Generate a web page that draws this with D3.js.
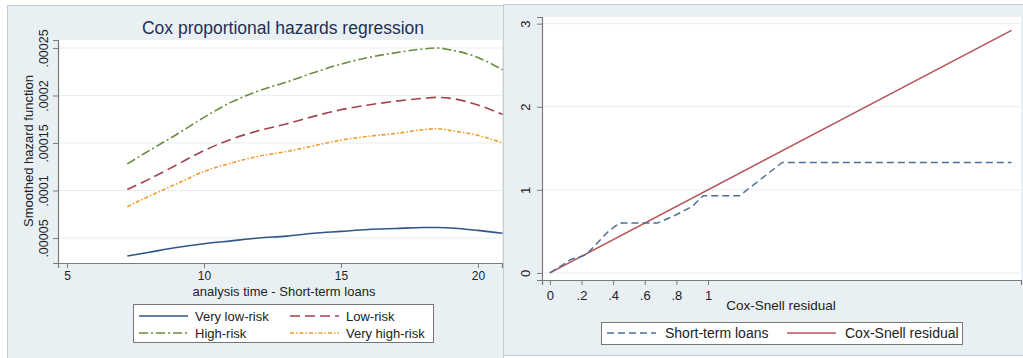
<!DOCTYPE html>
<head>
  <meta charset="utf-8">
</head>
<style>
body { margin: 0; background: #fff; }
text { font-family: "Liberation Sans", Arial, sans-serif; fill: #222; }
.grid line { stroke: #e6eeee; stroke-width: 1; }
</style>
<body>
<script src="https://d3js.org/d3.v7.min.js"></script>
<script>
// left panel: smoothed hazard by risk group
var times = [7.2, 8, 9, 10, 11, 12, 13, 14, 15, 16, 17, 18, 18.5, 19, 20, 20.9];
var veryLow  = [0.000031, 0.000035, 0.00004, 0.000044, 0.000047, 0.00005, 0.000052, 0.000055, 0.000057, 0.000059, 0.00006, 0.000061, 0.000061, 0.0000605, 0.000058, 0.000055];
var lowRisk  = [0.000101, 0.000112, 0.000127, 0.000142, 0.000154, 0.000163, 0.00017, 0.000178, 0.000185, 0.00019, 0.000194, 0.000197, 0.000198, 0.000197, 0.00019, 0.00018];
var highRisk = [0.000128, 0.000142, 0.000159, 0.000177, 0.000193, 0.000205, 0.000214, 0.000224, 0.000233, 0.00024, 0.000245, 0.000249, 0.00025, 0.000248, 0.00024, 0.000227];
var veryHigh = [0.000083, 0.000094, 0.000107, 0.00012, 0.000129, 0.000136, 0.000141, 0.000147, 0.000153, 0.000157, 0.00016, 0.000164, 0.000165, 0.000163, 0.000158, 0.00015];
var leftXTicks = [5, 10, 15, 20];
var leftYTicks = [0.00005, 0.0001, 0.00015, 0.0002, 0.00025];
var leftYLabels = [".00005", ".0001", ".00015", ".0002", ".00025"];

// right panel: Cox-Snell residual check
var csX = [0, 0.1, 0.13, 0.2, 0.23, 0.27, 0.33, 0.37, 0.44, 0.58, 0.68, 0.8, 0.9, 0.97, 1.2, 1.47, 2.92];
var csY = [0, 0.12, 0.16, 0.2, 0.22, 0.3, 0.42, 0.5, 0.6, 0.6, 0.6, 0.7, 0.8, 0.93, 0.93, 1.33, 1.33];
var refX = [0, 2.92];
var rightXTicks = [0, 0.2, 0.4, 0.6, 0.8, 1];
var rightXLabels = ["0", ".2", ".4", ".6", ".8", "1"];
var rightYTicks = [0, 1, 2, 3];

var width = 1023, height = 358;
var svg = d3.select("body").append("svg")
  .attr("width", width)
  .attr("height", height);

// panel backgrounds
svg.append("rect").attr("x", 7.5).attr("y", 5.5).attr("width", 496).attr("height", 360)
  .style("fill", "#e9f0f3").style("stroke", "#c8cccf");
svg.append("rect").attr("x", 503.5).attr("y", 4.5).attr("width", 530).attr("height", 351)
  .style("fill", "#e9f0f3").style("stroke", "#c8cccf");

// ---------- left panel ----------
var lx = d3.scaleLinear().domain([4.67, 20.88]).range([58, 502]);
var ly = d3.scaleLinear().domain([0.0000237, 0.0002584]).range([263, 40]);

svg.append("rect").attr("x", 58).attr("y", 40).attr("width", 444).attr("height", 223).style("fill", "#fff");

var lg = svg.append("g").attr("class", "grid");
lg.selectAll("line").data(leftYTicks).enter().append("line")
  .attr("x1", 59).attr("x2", 502)
  .attr("y1", function(d) { return ly(d); })
  .attr("y2", function(d) { return ly(d); });

var lxAxis = svg.append("g").attr("transform", "translate(0,263)")
  .call(d3.axisBottom(lx).tickValues(leftXTicks).tickSize(5).tickPadding(3).tickFormat(d3.format("d")));
var lyAxis = svg.append("g").attr("transform", "translate(58,0)")
  .call(d3.axisLeft(ly).tickValues(leftYTicks).tickSize(5).tickFormat(function(d, i) { return leftYLabels[i]; }));

[lxAxis, lyAxis].forEach(function(a) {
  a.select(".domain").style("stroke", "#7a7a7a").style("stroke-width", 1.2);
  a.selectAll(".tick line").style("stroke", "#7a7a7a");
  a.selectAll("text").style("font-size", "12.5px").style("fill", "#222")
    .style("font-family", "'Liberation Sans', Arial, sans-serif");
});
lxAxis.selectAll(".tick text").style("font-size", "12px");
lyAxis.selectAll(".tick text")
  .attr("x", null).attr("dy", null)
  .attr("transform", "translate(-10,0) rotate(-90)")
  .style("text-anchor", "middle");

svg.append("text").attr("x", 283).attr("y", 34).style("text-anchor", "middle")
  .style("font-size", "17.5px").style("fill", "#1f2f55")
  .text("Cox proportional hazards regression");
svg.append("text").attr("transform", "translate(33,151) rotate(-90)").style("text-anchor", "middle")
  .style("font-size", "13px").text("Smoothed hazard function");
svg.append("text").attr("x", 284).attr("y", 296).style("text-anchor", "middle")
  .style("font-size", "13px").text("analysis time - Short-term loans");

var series = [
  { name: "Very low-risk", values: veryLow, color: "#2f5787", dash: null },
  { name: "Low-risk", values: lowRisk, color: "#a1444a", dash: "10,5" },
  { name: "High-risk", values: highRisk, color: "#6a8c3f", dash: "9,3,2,3" },
  { name: "Very high-risk", values: veryHigh, color: "#ef9b2c", dash: "4,2,1.5,2" }
];

var hazLine = d3.line()
  .x(function(d, i) { return lx(times[i]); })
  .y(function(d) { return ly(d); })
  .curve(d3.curveMonotoneX);

series.forEach(function(s) {
  svg.append("path").datum(s.values)
    .attr("d", hazLine)
    .style("fill", "none")
    .style("stroke", s.color)
    .style("stroke-width", 1.6)
    .style("stroke-dasharray", s.dash);
});

// left legend
svg.append("rect").attr("x", 133.5).attr("y", 304.5).attr("width", 300).attr("height", 38)
  .style("fill", "#fff").style("stroke", "#777");
series.forEach(function(s, i) {
  var col = i % 2, row = Math.floor(i / 2);
  var x0 = col == 0 ? 139 : 290, y0 = 316 + row * 17;
  svg.append("line").attr("x1", x0).attr("x2", x0 + 49).attr("y1", y0).attr("y2", y0)
    .style("stroke", s.color).style("stroke-width", 1.6).style("stroke-dasharray", s.dash);
  svg.append("text").attr("x", x0 + 56).attr("y", y0 + 5).style("font-size", "13px").text(s.name);
});

// ---------- right panel ----------
var rx = d3.scaleLinear().domain([-0.05, 2.98]).range([542, 1021]);
var ry = d3.scaleLinear().domain([-0.085, 3.08]).range([280, 17]);

svg.append("rect").attr("x", 542).attr("y", 17).attr("width", 479).attr("height", 263).style("fill", "#fff");

var rg = svg.append("g").attr("class", "grid");
rg.selectAll("line").data(rightYTicks).enter().append("line")
  .attr("x1", 543).attr("x2", 1021)
  .attr("y1", function(d) { return ry(d); })
  .attr("y2", function(d) { return ry(d); });

var rxAxis = svg.append("g").attr("transform", "translate(0,280)")
  .call(d3.axisBottom(rx).tickValues(rightXTicks).tickSize(5).tickPadding(6).tickFormat(function(d, i) { return rightXLabels[i]; }));
var ryAxis = svg.append("g").attr("transform", "translate(542,0)")
  .call(d3.axisLeft(ry).tickValues(rightYTicks).tickSize(5).tickFormat(d3.format("d")));

[rxAxis, ryAxis].forEach(function(a) {
  a.select(".domain").style("stroke", "#7a7a7a").style("stroke-width", 1.2);
  a.selectAll(".tick line").style("stroke", "#7a7a7a");
  a.selectAll("text").style("font-size", "13px").style("fill", "#222")
    .style("font-family", "'Liberation Sans', Arial, sans-serif");
});
ryAxis.selectAll(".tick text")
  .attr("x", null).attr("dy", null)
  .attr("transform", "translate(-12,0) rotate(-90)")
  .style("text-anchor", "middle");

svg.append("text").attr("x", 781).attr("y", 310).style("text-anchor", "middle")
  .style("font-size", "13.5px").text("Cox-Snell residual");

var csLine = d3.line()
  .x(function(d) { return rx(d[0]); })
  .y(function(d) { return ry(d[1]); });

svg.append("path").datum(refX.map(function(v) { return [v, v]; }))
  .attr("d", csLine)
  .style("fill", "none").style("stroke", "#b5555a").style("stroke-width", 1.5);

svg.append("path").datum(csX.map(function(v, i) { return [v, csY[i]]; }))
  .attr("d", csLine)
  .style("fill", "none").style("stroke", "#4d6f95").style("stroke-width", 1.5)
  .style("stroke-dasharray", "7,4");

// right legend
svg.append("rect").attr("x", 601.5).attr("y", 322.5).attr("width", 361).attr("height", 22)
  .style("fill", "#fff").style("stroke", "#777");
svg.append("line").attr("x1", 607).attr("x2", 656).attr("y1", 333).attr("y2", 333)
  .style("stroke", "#4d6f95").style("stroke-width", 1.5).style("stroke-dasharray", "7,4");
svg.append("text").attr("x", 665).attr("y", 338).style("font-size", "14px").text("Short-term loans");
svg.append("line").attr("x1", 787).attr("x2", 836).attr("y1", 333).attr("y2", 333)
  .style("stroke", "#b5555a").style("stroke-width", 1.5);
svg.append("text").attr("x", 845).attr("y", 338).style("font-size", "14px").text("Cox-Snell residual");
</script>
</body>
